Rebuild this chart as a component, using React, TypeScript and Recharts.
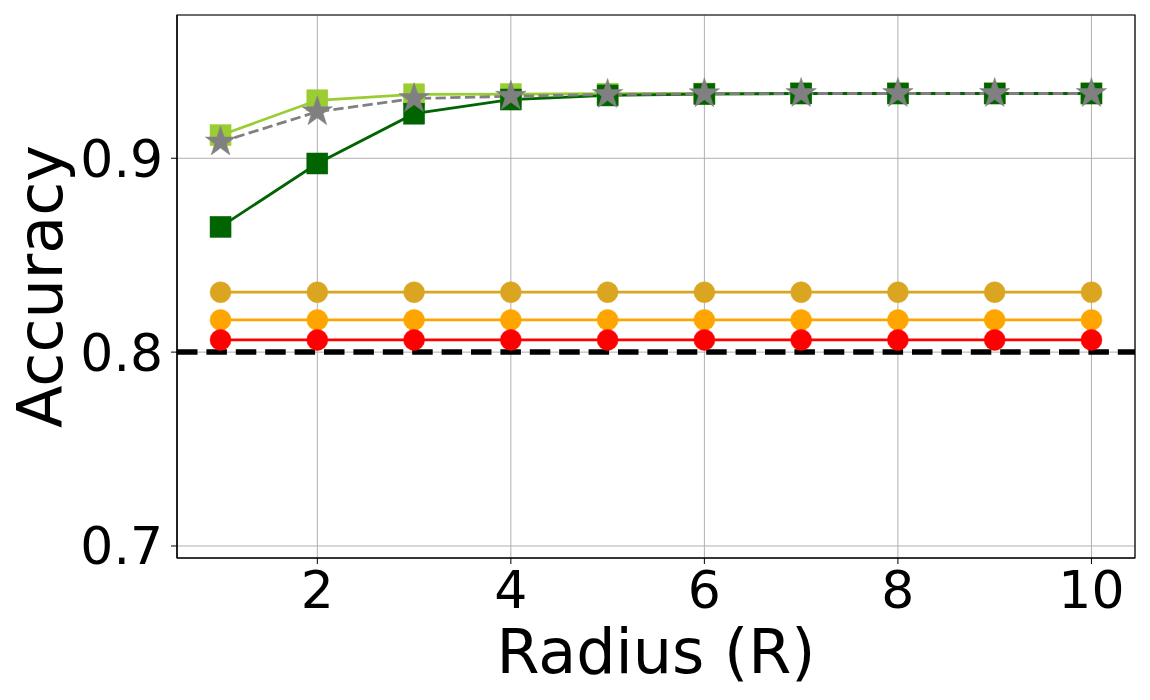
import React from 'react';
import { LineChart, Line, XAxis, YAxis, CartesianGrid, ReferenceLine, ReferenceArea } from 'recharts';

const radii = [1, 2, 3, 4, 5, 6, 7, 8, 9, 10];
const lightGreen = [0.9119, 0.9299, 0.933, 0.9331, 0.9333, 0.9334, 0.9335, 0.9335, 0.9335, 0.9335];
const darkGreen = [0.8646, 0.8973, 0.923, 0.9303, 0.9324, 0.9331, 0.9334, 0.9334, 0.9334, 0.9334];
const grayStar = [0.9084, 0.924, 0.9308, 0.932, 0.9329, 0.9333, 0.9334, 0.9334, 0.9334, 0.9334];
const goldSeries = [0.8309, 0.8309, 0.8309, 0.8309, 0.8309, 0.8309, 0.8309, 0.8309, 0.8309, 0.8309];
const orangeSeries = [0.8166, 0.8166, 0.8166, 0.8166, 0.8166, 0.8166, 0.8166, 0.8166, 0.8166, 0.8166];
const redSeries = [0.8063, 0.8063, 0.8063, 0.8063, 0.8063, 0.8063, 0.8063, 0.8063, 0.8063, 0.8063];
const baseline = 0.8;
const xTicks = [2, 4, 6, 8, 10];
const yTicks = [0.7, 0.8, 0.9];
const xDomain = [0.55, 10.45];
const yDomain = [0.6938, 0.9739];

const data = radii.map((r, i) => ({
  r,
  light: lightGreen[i],
  dark: darkGreen[i],
  star: grayStar[i],
  gold: goldSeries[i],
  orange: orangeSeries[i],
  red: redSeries[i],
}));

const FONT = 'DejaVu Sans';

const squareDot = (color: string) => (props: any) => {
  const { cx, cy, index } = props;
  if (cx == null || cy == null) return <g key={index} />;
  const s = 21;
  return <rect key={index} x={cx - s / 2} y={cy - s / 2} width={s} height={s} fill={color} stroke={color} strokeWidth={0.5} />;
};

const circleDot = (color: string) => (props: any) => {
  const { cx, cy, index } = props;
  if (cx == null || cy == null) return <g key={index} />;
  return <circle key={index} cx={cx} cy={cy} r={10.5} fill={color} stroke={color} strokeWidth={0.5} />;
};

const starDot = (color: string) => (props: any) => {
  const { cx, cy, index } = props;
  if (cx == null || cy == null) return <g key={index} />;
  const R = 16;
  const r = R * 0.381966;
  const pts: string[] = [];
  for (let k = 0; k < 10; k++) {
    const ang = -Math.PI / 2 + (k * Math.PI) / 5;
    const rad = k % 2 === 0 ? R : r;
    pts.push(`${cx + rad * Math.cos(ang)},${cy + rad * Math.sin(ang)}`);
  }
  return <polygon key={index} points={pts.join(' ')} fill={color} stroke={color} strokeWidth={0.5} />;
};

const XLabel = (props: any) => {
  const vb = props.viewBox;
  return (
    <text x={vb.x + vb.width / 2} y={vb.y + 115} textAnchor="middle" fontFamily={FONT} fontSize={62} fill="#000">
      Radius (R)
    </text>
  );
};

const YLabel = (props: any) => {
  const vb = props.viewBox;
  const cx = 62;
  const cy = vb.y + vb.height / 2;
  return (
    <text x={cx} y={cy} transform={`rotate(-90, ${cx}, ${cy})`} textAnchor="middle" fontFamily={FONT} fontSize={62} fill="#000">
      Accuracy
    </text>
  );
};

export default function App() {
  return (
    <div style={{ position: 'absolute', left: 0, top: 0, width: 1150, height: 700, background: '#fff' }}>
      <LineChart width={1150} height={700} data={data} margin={{ top: 15, right: 15, left: 0, bottom: 0 }}>
        <CartesianGrid stroke="#b0b0b0" strokeWidth={1} />
        <XAxis
          dataKey="r"
          type="number"
          domain={xDomain}
          ticks={xTicks}
          allowDataOverflow
          height={142}
          tickSize={6}
          tickMargin={7}
          stroke="#000"
          tick={{ fontFamily: FONT, fontSize: 52, fill: '#000' }}
          axisLine={{ stroke: '#000', strokeWidth: 1.2 }}
          tickLine={{ stroke: '#000', strokeWidth: 1 }}
          label={<XLabel />}
        />
        <YAxis
          type="number"
          domain={yDomain}
          ticks={yTicks}
          allowDataOverflow
          width={177}
          tickSize={6}
          tickMargin={8}
          tickFormatter={(v: number) => v.toFixed(1)}
          tick={{ fontFamily: FONT, fontSize: 52, fill: '#000' }}
          axisLine={{ stroke: '#000', strokeWidth: 1.2 }}
          tickLine={{ stroke: '#000', strokeWidth: 1 }}
          label={<YLabel />}
        />
        <Line dataKey="gold" stroke="#daa520" strokeWidth={2.8} dot={circleDot('#daa520')} isAnimationActive={false} />
        <Line dataKey="orange" stroke="#ffa500" strokeWidth={2.8} dot={circleDot('#ffa500')} isAnimationActive={false} />
        <Line dataKey="red" stroke="#ff0000" strokeWidth={2.8} dot={circleDot('#ff0000')} isAnimationActive={false} />
        <Line dataKey="light" stroke="#9acd32" strokeWidth={2.8} dot={squareDot('#9acd32')} isAnimationActive={false} />
        <Line dataKey="dark" stroke="#006400" strokeWidth={2.8} dot={squareDot('#006400')} isAnimationActive={false} />
        <Line dataKey="star" stroke="#808080" strokeWidth={2.8} strokeDasharray="10.3 4.4" dot={starDot('#808080')} isAnimationActive={false} />
        <ReferenceLine y={baseline} stroke="#000" strokeWidth={5.5} strokeDasharray="20.5 8.9" />
        <ReferenceArea x1={xDomain[0]} x2={xDomain[1]} y1={yDomain[0]} y2={yDomain[1]} fill="none" stroke="#000" strokeWidth={1.2} fillOpacity={0} />
      </LineChart>
    </div>
  );
}
